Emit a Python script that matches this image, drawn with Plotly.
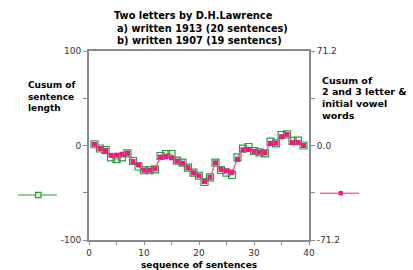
import plotly.graph_objects as go

# Data
sentences = list(range(1, 40))
cusum_length = [1.3, -3.2, -4.8, -12.5, -14.5, -12.5, -8.3, -16.4, -22.2, -26.2,
                -26.2, -25.2, -11.1, -9.0, -9.0, -16.1, -18.2, -23.5, -28.8, -32.0,
                -38.6, -33.7, -18.2, -25.9, -28.8, -31.2, -12.5, -3.4, -1.6, -5.8,
                -7.2, -8.3, 4.2, 2.3, 11.1, 11.9, 4.8, 5.1, 0.0]
cusum_words = [0.9, -2.3, -3.8, -7.4, -7.3, -6.6, -5.9, -12.1, -14.5, -18.6,
               -18.6, -17.6, -8.7, -8.3, -9.3, -11.7, -13.3, -16.7, -20.5, -22.8,
               -27.1, -24.0, -13.0, -18.1, -19.1, -20.1, -10.4, -3.2, -3.0, -4.4,
               -5.1, -5.4, 1.7, 1.7, 6.6, 8.4, 2.1, 2.4, 0.0]
x_ticks = [0, 5, 10, 15, 20, 25, 30, 35, 40]
x_labels = ['0', '', '10', '', '20', '', '30', '', '40']
y1_ticks = [-100, -50, 0, 50, 100]
y1_labels = ['-100', '', '0', '', '100']
y2_ticks = [-71.2, -35.6, 0, 35.6, 71.2]
y2_labels = ['-71.2', '', '0.0', '', '71.2']

GREEN = '#2a9a3a'
PINK = '#ee1a80'
PINK_LINE = '#ff6ab0'
AXIS = '#8a8a8a'
W, H = 413, 270
L, R, T, B = 89, 104, 51, 30
PW, PH = W - L - R, H - T - B

def px(x):
    return (x - L) / PW

def py(y):
    return (H - B - y) / PH

FAM = 'DejaVu Sans, Verdana, sans-serif'

fig = go.Figure()
fig.add_trace(go.Scatter(x=sentences, y=cusum_length, mode='lines+markers',
                         line=dict(color=GREEN, width=1),
                         marker=dict(symbol='square-open', size=7, color=GREEN,
                                     line=dict(width=1.2, color=GREEN)),
                         yaxis='y', showlegend=False))
fig.add_trace(go.Scatter(x=sentences, y=cusum_words, mode='lines+markers',
                         line=dict(color=PINK_LINE, width=1.5),
                         marker=dict(symbol='square', size=5, color=PINK),
                         yaxis='y2', showlegend=False))

tickfont = dict(family=FAM, size=9, color='#333')

fig.update_layout(
    width=W, height=H, margin=dict(l=L, r=R, t=T, b=B, autoexpand=False),
    paper_bgcolor='white', plot_bgcolor='white',
    xaxis=dict(range=[0, 40], tickvals=x_ticks, ticktext=x_labels,
               showline=True, linecolor=AXIS, linewidth=2, mirror=True,
               ticks='outside', ticklen=3, tickcolor=AXIS, tickwidth=1,
               showgrid=False, zeroline=False, tickfont=tickfont, automargin=False),
    yaxis=dict(range=[-100, 100], tickvals=y1_ticks, ticktext=y1_labels,
               showline=True, linecolor=AXIS, linewidth=2,
               ticks='outside', ticklen=4, tickcolor=AXIS, tickwidth=1,
               showgrid=False, zeroline=False, tickfont=tickfont, automargin=False),
    yaxis2=dict(range=[-71.2, 71.2], tickvals=y2_ticks, ticktext=y2_labels,
                overlaying='y', side='right',
                showline=True, linecolor=AXIS, linewidth=2,
                ticks='outside', ticklen=4, tickcolor=AXIS, tickwidth=1,
                showgrid=False, zeroline=False, tickfont=tickfont, automargin=False),
)

# X axis title
fig.add_annotation(text='<b>sequence of sentences</b>', x=px(199), y=py(265), xref='paper', yref='paper',
                   xanchor='center', yanchor='middle', showarrow=False,
                   font=dict(family=FAM, size=9, color='#000'))

# Title lines
titles = [('Two letters by D.H.Lawrence', 112, 15),
          ('a) written 1913 (20 sentences)', 115, 28),
          ('b) written 1907 (19 sentencs)', 115, 41)]
for txt, x0, y0 in titles:
    fig.add_annotation(text='<b>%s</b>' % txt, x=px(x0), y=py(y0), xref='paper', yref='paper',
                       xanchor='left', yanchor='middle', showarrow=False,
                       font=dict(family=FAM, size=9.8, color='#000'))

left_lbl = ['Cusum of', 'sentence', 'length']
for i, t in enumerate(left_lbl):
    fig.add_annotation(text='<b>%s</b>' % t, x=px(26), y=py(85 + 11.7 * i), xref='paper', yref='paper',
                       xanchor='left', yanchor='middle', showarrow=False,
                       font=dict(family=FAM, size=9, color='#000'))
right_lbl = ['Cusum of', '2 and 3 letter &', 'initial vowel', 'words']
for i, t in enumerate(right_lbl):
    fig.add_annotation(text='<b>%s</b>' % t, x=px(320), y=py(80 + 11.7 * i), xref='paper', yref='paper',
                       xanchor='left', yanchor='middle', showarrow=False,
                       font=dict(family=FAM, size=9.5, color='#000'))

# Legend keys
fig.add_shape(type='line', xref='paper', yref='paper', x0=px(18), x1=px(57), y0=py(195), y1=py(195),
              line=dict(color=GREEN, width=1.2))
fig.add_shape(type='rect', xref='paper', yref='paper', x0=px(35.5), x1=px(41), y0=py(192.3), y1=py(197.7),
              line=dict(color=GREEN, width=1.2), fillcolor='#d8f0d8')
fig.add_shape(type='line', xref='paper', yref='paper', x0=px(320), x1=px(359), y0=py(193.3), y1=py(193.3),
              line=dict(color=PINK_LINE, width=1.5))
fig.add_shape(type='rect', xref='paper', yref='paper', x0=px(339), x1=px(342.5), y0=py(191.5), y1=py(195),
              line=dict(color=PINK, width=1), fillcolor=PINK)

fig.write_html('out.html', config={'displayModeBar': False},
               post_script="document.body.style.margin='0';")
